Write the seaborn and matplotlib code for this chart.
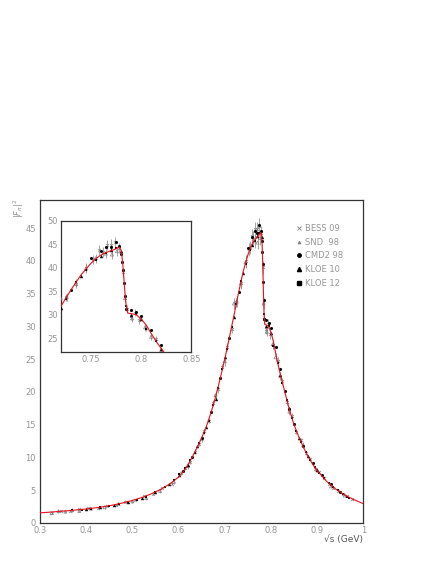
import numpy as np
import pandas as pd
import matplotlib
matplotlib.use("Agg")
import matplotlib.pyplot as plt
from matplotlib.ticker import MultipleLocator
from matplotlib.lines import Line2D
import seaborn as sns

# curva del ajuste |F_pi|^2
fit_x = [0.30, 0.32, 0.34, 0.36, 0.38, 0.40, 0.42, 0.44, 0.46, 0.48, 0.50, 0.52, 0.54,
         0.56, 0.58, 0.60, 0.61, 0.62, 0.63, 0.64, 0.65, 0.66, 0.67, 0.68, 0.69, 0.70,
         0.71, 0.72, 0.73, 0.74, 0.75, 0.755, 0.76, 0.765, 0.77, 0.775, 0.778, 0.780,
         0.781, 0.782, 0.783, 0.784, 0.785, 0.786, 0.787, 0.790, 0.795, 0.800, 0.805,
         0.810, 0.815, 0.820, 0.830, 0.840, 0.850, 0.860, 0.870, 0.880, 0.890, 0.900,
         0.920, 0.940, 0.960, 0.980, 1.000]
fit_y = [1.55, 1.65, 1.76, 1.87, 2.00, 2.14, 2.31, 2.52, 2.76, 3.08, 3.44, 3.88, 4.42,
         5.08, 5.92, 7.00, 7.80, 8.85, 10.1, 11.5, 13.0, 14.7, 16.8, 19.2, 22.0, 25.0,
         28.3, 31.7, 35.2, 38.4, 40.9, 41.9, 42.7, 43.2, 43.6, 44.0, 44.4, 43.8,
         42.4, 40.2, 37.4, 34.5, 32.2, 30.8, 30.3, 30.2, 30.0, 29.1, 27.8,
         26.0, 24.3, 22.8, 20.0, 17.3, 15.0, 13.2, 11.6, 10.2, 9.0, 8.0,
         6.4, 5.2, 4.25, 3.55, 2.95]

bess_x = [0.325, 0.345, 0.365, 0.385, 0.405, 0.425, 0.445, 0.465, 0.485, 0.505, 0.525,
          0.545, 0.565, 0.585, 0.605, 0.615, 0.625, 0.635, 0.645, 0.655, 0.665, 0.675,
          0.685, 0.695, 0.705, 0.715, 0.725, 0.735, 0.745, 0.752, 0.758, 0.762, 0.766,
          0.770, 0.774, 0.778, 0.782, 0.786, 0.790, 0.794, 0.798, 0.805, 0.815, 0.825,
          0.835, 0.845, 0.855, 0.865, 0.875, 0.885, 0.895, 0.905, 0.915, 0.925, 0.935,
          0.945, 0.955, 0.965, 0.975]
bess_y = [1.55, 1.85, 1.80, 2.10, 2.25, 2.30, 2.65, 2.75, 3.25, 3.50, 4.10,
          4.50, 5.35, 6.00, 7.60, 8.40, 9.30, 10.9, 12.1, 14.0, 15.6, 18.3,
          20.4, 23.8, 26.9, 29.6, 33.7, 36.6, 40.0, 41.8, 43.8, 43.4, 44.8,
          44.9, 45.4, 44.2, 39.0, 31.2, 29.6, 30.4, 28.8, 27.2, 24.8, 21.6,
          18.4, 16.4, 13.9, 12.6, 10.7, 9.80, 8.30, 7.80, 6.90, 6.00, 5.30,
          4.90, 4.40, 4.10, 3.60]
bess_err = [0.15, 0.15, 0.15, 0.15, 0.15, 0.15, 0.15, 0.15, 0.2, 0.2, 0.2,
            0.2, 0.2, 0.25, 0.3, 0.3, 0.3, 0.35, 0.35, 0.4, 0.4, 0.45,
            0.5, 0.5, 0.6, 0.6, 0.7, 0.8, 0.9, 1.0, 1.0, 1.1, 1.1,
            1.1, 1.1, 1.1, 1.0, 0.8, 0.7, 0.7, 0.7, 0.6, 0.6, 0.5,
            0.45, 0.4, 0.35, 0.3, 0.3, 0.25, 0.25, 0.2, 0.2, 0.2, 0.15,
            0.15, 0.15, 0.12, 0.12]

snd_x = [0.325, 0.340, 0.355, 0.370, 0.385, 0.410, 0.440, 0.470, 0.500, 0.530, 0.560,
         0.590, 0.620, 0.650, 0.680, 0.700, 0.720, 0.726, 0.735, 0.745, 0.755, 0.765,
         0.771, 0.776, 0.784, 0.791, 0.804, 0.810, 0.820, 0.840, 0.870, 0.900, 0.930,
         0.960]
snd_y = [1.50, 1.80, 1.75, 1.95, 1.85, 2.20, 2.40, 2.90, 3.30, 3.80, 4.90,
         6.30, 8.70, 12.8, 19.5, 24.7, 33.5, 33.8, 36.6, 39.8, 42.0, 43.0,
         42.8, 43.5, 33.5, 29.2, 27.3, 25.3, 22.5, 17.0, 11.9, 8.10, 5.60,
         4.20]
snd_err = [0.2, 0.2, 0.2, 0.2, 0.2, 0.2, 0.2, 0.2, 0.2, 0.25, 0.3,
           0.3, 0.4, 0.5, 0.6, 0.7, 0.8, 0.8, 0.9, 0.9, 1.0, 1.0,
           1.0, 1.0, 0.8, 0.7, 0.7, 0.6, 0.6, 0.5, 0.4, 0.3, 0.2,
           0.2]

cmd_x = [0.61, 0.63, 0.65, 0.67, 0.69, 0.71, 0.73, 0.75, 0.76, 0.765, 0.77, 0.775,
         0.778, 0.780, 0.781, 0.782, 0.783, 0.784, 0.785, 0.790, 0.795, 0.80, 0.81,
         0.82, 0.83, 0.84, 0.85, 0.87, 0.89, 0.91, 0.93, 0.95]
cmd_y = [7.9, 10.0, 13.0, 16.9, 22.1, 28.2, 35.2, 42.0, 43.6, 44.5, 44.3, 45.5,
         44.6, 43.0, 41.3, 39.6, 36.8, 34.0, 31.2, 31.0, 30.5, 29.8, 26.8,
         23.5, 20.1, 17.4, 15.1, 11.7, 9.1, 7.3, 5.9, 4.7]

kloe10_x = [0.40, 0.43, 0.46, 0.49, 0.52, 0.55, 0.58, 0.60, 0.62, 0.64, 0.66, 0.68,
            0.70, 0.72, 0.74, 0.76, 0.77, 0.78, 0.79, 0.80, 0.82, 0.84, 0.86, 0.88,
            0.90]
kloe10_y = [2.2, 2.4, 2.8, 3.2, 3.8, 4.8, 6.0, 7.3, 8.8, 11.7, 14.6, 19.0,
            25.3, 31.4, 38.2, 42.5, 43.8, 43.6, 30.0, 29.0, 22.6, 17.5, 13.0, 10.3,
            8.1]

kloe12_x = [0.37, 0.39, 0.41, 0.43, 0.45, 0.47, 0.49, 0.51, 0.53, 0.55, 0.57, 0.59,
            0.60, 0.615, 0.625, 0.635, 0.645, 0.655, 0.665, 0.675, 0.685, 0.695,
            0.705, 0.715, 0.725, 0.735, 0.745, 0.755, 0.765, 0.775, 0.785, 0.795,
            0.805, 0.815, 0.825, 0.835, 0.845, 0.855, 0.865, 0.875, 0.885, 0.895,
            0.905, 0.915, 0.925, 0.935, 0.945, 0.955, 0.965, 0.970]
kloe12_y = [1.95, 2.0, 2.15, 2.45, 2.6, 2.85, 3.2, 3.5, 4.0, 4.7, 5.5, 6.5,
            7.5, 8.4, 9.6, 10.7, 12.2, 13.8, 15.6, 18.0, 20.6, 23.5,
            26.6, 29.9, 33.4, 36.9, 39.6, 41.6, 43.1, 44.2, 31.9, 30.1,
            27.0, 24.4, 21.3, 18.8, 16.1, 14.1, 12.4, 10.9, 9.6, 8.5,
            7.6, 6.8, 6.1, 5.5, 5.0, 4.5, 4.0, 3.8]

legend_labels = ["BESS 09", "SND  98", "CMD2 98", "KLOE 10", "KLOE 12"]

sns.set_style("white")
plt.rcParams["font.family"] = ["DejaVu Sans"]

GRIS = "#808080"
TEXTO = "#959595"
ROJO = "#e8101a"
MARCO = "#333333"

fit = pd.DataFrame({"x": fit_x, "y": fit_y})

# estilos de cada experimento
estilos = [
    (bess_x, bess_y, bess_err, dict(marker="x", s=5, color=GRIS, linewidth=0.5)),
    (snd_x, snd_y, snd_err, dict(marker="^", s=5, facecolor="none", edgecolor=GRIS, linewidth=0.5)),
    (cmd_x, cmd_y, None, dict(marker="o", s=5, color="black", linewidth=0)),
    (kloe10_x, kloe10_y, None, dict(marker="^", s=6, color="black", linewidth=0)),
    (kloe12_x, kloe12_y, None, dict(marker="s", s=4.5, color="black", linewidth=0)),
]


def dibujar(ax):
    for xs, ys, errs, kw in estilos:
        if errs is not None:
            ax.vlines(xs, np.array(ys) - np.array(errs), np.array(ys) + np.array(errs),
                      color=GRIS, linewidth=0.5, zorder=2)
        sns.scatterplot(x=xs, y=ys, ax=ax, zorder=3, legend=False, **kw)
    sns.lineplot(data=fit, x="x", y="y", ax=ax, color=ROJO, linewidth=0.8, zorder=4)
    ax.set_xlabel("")
    ax.set_ylabel("")
    for sp in ax.spines.values():
        sp.set_color(MARCO)
        sp.set_linewidth(0.9)
    ax.tick_params(which="both", direction="in", colors=MARCO, labelcolor=TEXTO,
                   labelsize=6, top=False, right=False, width=0.6)
    ax.tick_params(which="major", length=4)
    ax.tick_params(which="minor", length=2)


fig = plt.figure(figsize=(4.36, 5.64), dpi=100)

ax = fig.add_axes([0.0917, 0.0727, 0.7416, 0.5727])
dibujar(ax)
ax.set_xlim(0.3, 1.0)
ax.set_ylim(0, 49.3)
ax.xaxis.set_major_locator(MultipleLocator(0.1))
ax.xaxis.set_minor_locator(MultipleLocator(0.02))
ax.yaxis.set_major_locator(MultipleLocator(5))
ax.yaxis.set_minor_locator(MultipleLocator(1))
ax.set_xticks([0.3, 0.4, 0.5, 0.6, 0.7, 0.8, 0.9, 1.0])
ax.set_xticklabels(["0.3", "0.4", "0.5", "0.6", "0.7", "0.8", "0.9", "1"])
ax.tick_params(axis="x", pad=2.5)
ax.tick_params(axis="y", pad=3)

handles = [
    Line2D([], [], ls="", marker="x", ms=2.5, color=GRIS, mew=0.6),
    Line2D([], [], ls="", marker="^", ms=2, color=GRIS, mew=0.6),
    Line2D([], [], ls="", marker="o", ms=2.5, color="black"),
    Line2D([], [], ls="", marker="^", ms=3, color="black"),
    Line2D([], [], ls="", marker="s", ms=2.5, color="black"),
]
leg = ax.legend(handles, legend_labels, loc="upper left", bbox_to_anchor=(0.79, 0.925),
                frameon=False, fontsize=6, handlelength=0.8, handletextpad=0.3,
                labelspacing=0.55, borderpad=0, borderaxespad=0)
for t in leg.get_texts():
    t.set_color(TEXTO)

fig.text(0.833, 0.0426, "\u221as (GeV)", ha="right", va="center", fontsize=6.5, color="#555555")
fig.text(0.044, 0.631, r"$|F_\pi|^2$", rotation=90, ha="center", va="center",
         fontsize=6, color=TEXTO)

axin = fig.add_axes([0.1392, 0.3764, 0.2996, 0.2323])
dibujar(axin)
axin.set_xlim(0.72, 0.85)
axin.set_ylim(22.1, 50)
axin.set_xticks([0.75, 0.8, 0.85])
axin.set_xticklabels(["0.75", "0.8", "0.85"])
axin.yaxis.set_major_locator(MultipleLocator(5))
axin.xaxis.set_minor_locator(MultipleLocator(0.01))
axin.yaxis.set_minor_locator(MultipleLocator(1))
axin.tick_params(which="minor", length=1.5)
axin.tick_params(axis="x", pad=2.5)
axin.tick_params(axis="y", pad=2)

fig.savefig("out.png", dpi=100, facecolor="white")
